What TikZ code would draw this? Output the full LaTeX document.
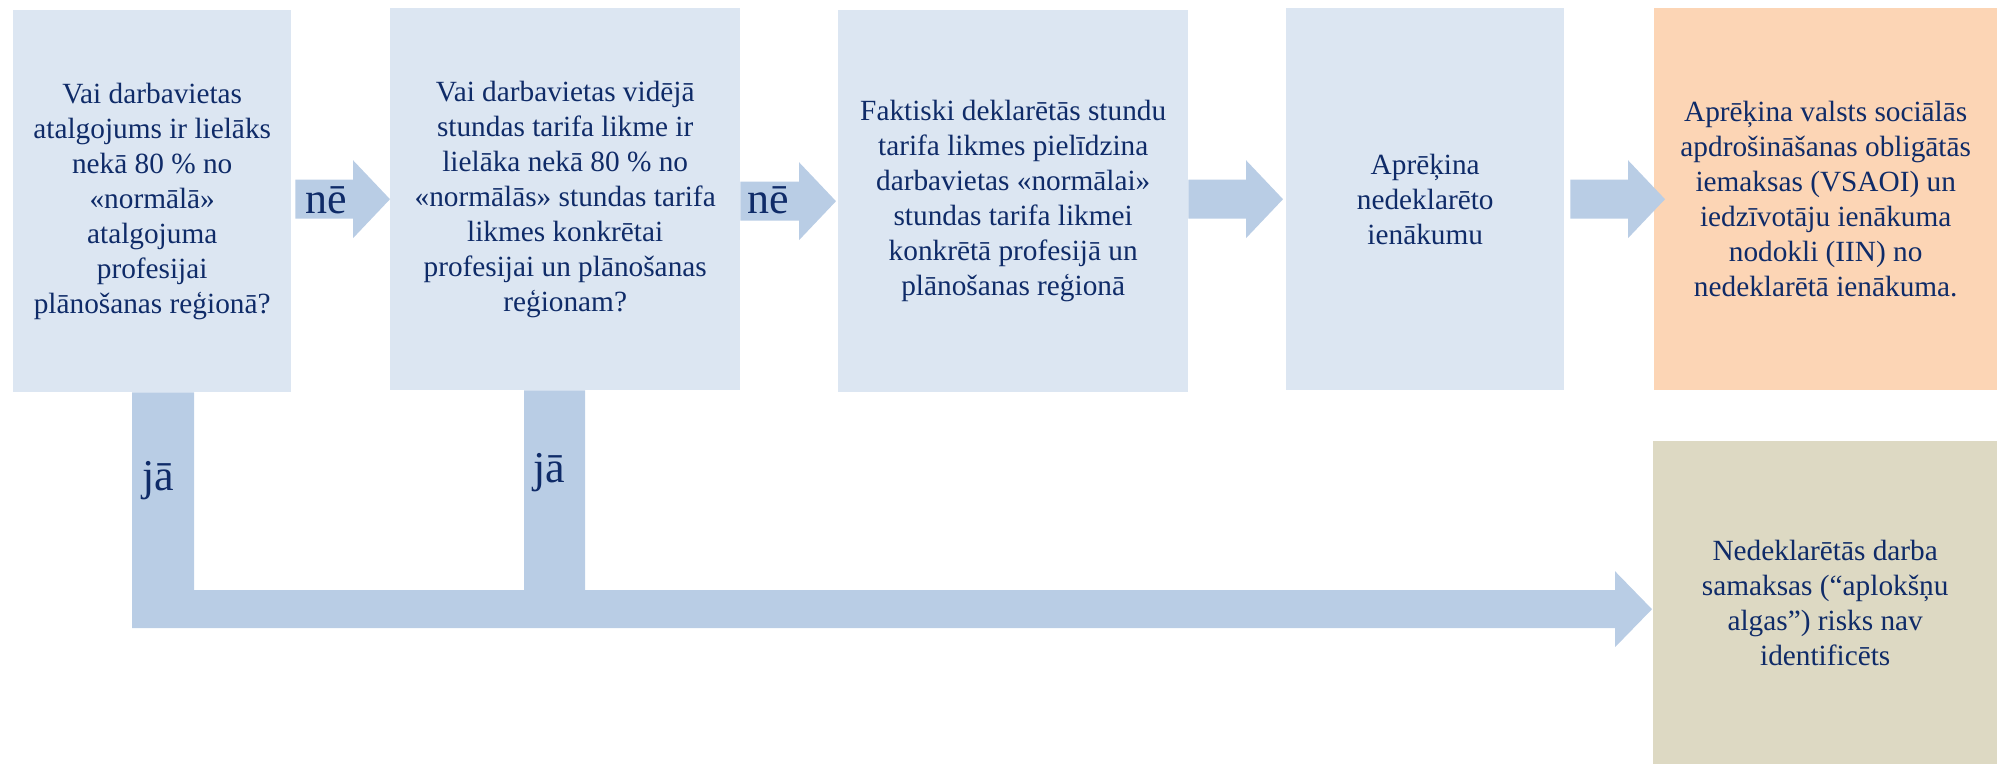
\documentclass[tikz,border=0pt]{standalone}
\usepackage{fontspec}
\setmainfont{Liberation Serif}
\usetikzlibrary{calc}
\definecolor{boxblue}{HTML}{DCE6F2}
\definecolor{arrowblue}{HTML}{B9CDE5}
\definecolor{boxorange}{HTML}{FCD5B5}
\definecolor{boxtan}{HTML}{DDD9C3}
\definecolor{txtblue}{HTML}{0F2B68}
% #1 from node, #2 to node, #3 gap after source, #4 tip offset from target west
\newcommand{\myblockarrow}[4]{%
  \fill[arrowfill] let \p1=(#1.east), \p2=(#2.west) in
    (\x1+#3,\y2+19.5pt) -- (\x2+#4-37pt,\y2+19.5pt) -- (\x2+#4-37pt,\y2+39pt)
    -- (\x2+#4,\y2) -- (\x2+#4-37pt,\y2-39pt) -- (\x2+#4-37pt,\y2-19.5pt)
    -- (\x1+#3,\y2-19.5pt) -- cycle;}
\begin{document}
\begin{tikzpicture}[x=1pt,y=-1pt,
  box/.style={rectangle, inner sep=0pt, anchor=north west, align=center,
    text=txtblue, font=\fontsize{29.3}{35}\selectfont},
  lbl/.style={inner sep=0pt, anchor=base, text=txtblue, font=\fontsize{44}{44}\selectfont},
  arrowfill/.style={fill=arrowblue}]
\useasboundingbox (0,0) rectangle (1997,764);
\node[box, fill=boxblue, minimum width=278pt, minimum height=382pt] (b1) at (13,10)
  {Vai darbavietas\\atalgojums ir lielāks\\nekā 80 \% no\\«normālā»\\atalgojuma\\profesijai\\plānošanas reģionā?};
\node[box, fill=boxblue, minimum width=350pt, minimum height=382pt] (b2) at (390,8)
  {Vai darbavietas vidējā\\stundas tarifa likme ir\\lielāka nekā 80 \% no\\«normālās» stundas tarifa\\likmes konkrētai\\profesijai un plānošanas\\reģionam?};
\node[box, fill=boxblue, minimum width=350pt, minimum height=382pt] (b3) at (838,10)
  {Faktiski deklarētās stundu\\tarifa likmes pielīdzina\\darbavietas «normālai»\\stundas tarifa likmei\\konkrētā profesijā un\\plānošanas reģionā};
\node[box, fill=boxblue, minimum width=278pt, minimum height=382pt] (b4) at (1286,8)
  {Aprēķina\\nedeklarēto\\ienākumu};
\node[box, fill=boxorange, minimum width=343pt, minimum height=382pt] (b5) at (1654,8)
  {Aprēķina valsts sociālās\\apdrošināšanas obligātās\\iemaksas (VSAOI) un\\iedzīvotāju ienākuma\\nodokli (IIN) no\\nedeklarētā ienākuma.};
\node[box, fill=boxtan, minimum width=344pt, minimum height=323pt] (b6) at (1653,441)
  {Nedeklarētās darba\\samaksas (“aplokšņu\\algas”) risks nav\\identificēts};
% horizontal block arrows
\myblockarrow{b1}{b2}{4pt}{0pt}
\myblockarrow{b2}{b3}{0pt}{-2pt}
\myblockarrow{b3}{b4}{0pt}{-3pt}
\myblockarrow{b4}{b5}{6pt}{11pt}
% bottom "ja" connector
\fill[arrowfill] let \p1=(b1.south), \p2=(b2.south), \p3=(b6.west) in
  (\x1-20pt,\y1) -- (\x1-20pt,\y3-25.5pt) -- (\x3-38pt,\y3-25.5pt)
  -- (\x3-38pt,\y3-44.5pt) -- (\x3-1pt,\y3-6.5pt) -- (\x3-38pt,\y3+31.5pt)
  -- (\x3-38pt,\y3+12.5pt) -- (\x2+20pt,\y3+12.5pt) -- (\x2+20pt,\y2)
  -- (\x2-41pt,\y2) -- (\x2-41pt,\y3+12.5pt) -- (\x1+42pt,\y3+12.5pt)
  -- (\x1+42pt,\y1) -- cycle;
% labels
\node[lbl] (ne1) at (326,213) {nē};
\node[lbl] (ne2) at (768,213) {nē};
\node[lbl] (ja1) at (158,490) {jā};
\node[lbl] (ja2) at (549,482) {jā};
\end{tikzpicture}
\end{document}
